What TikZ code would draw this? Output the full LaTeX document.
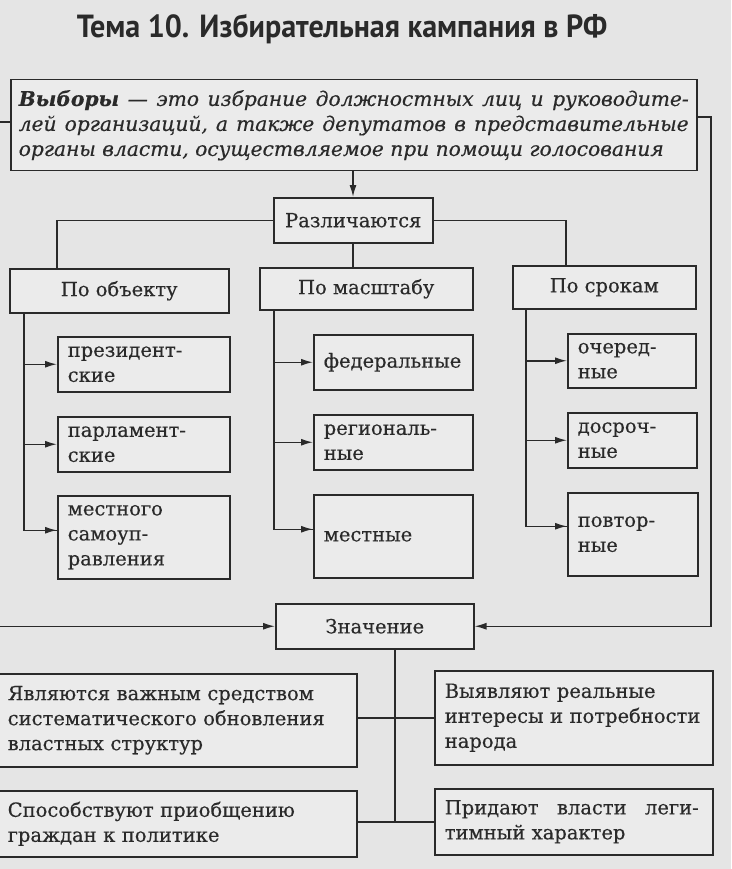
\documentclass[tikz,border=0pt]{standalone}
\usepackage{fontspec}
\setmainfont{DejaVu Serif}[FakeBold=0.4]
\newfontfamily\titlefont{PT Sans}[FakeStretch=0.94]
\usetikzlibrary{arrows.meta,calc}
\definecolor{bgc}{RGB}{229,229,229}
\definecolor{boxc}{RGB}{235,235,235}
\definecolor{ink}{RGB}{42,42,42}
\newcommand{\bxnode}[7][]{%
  \node[box,anchor=north west,minimum width=#5pt-#3pt,minimum height=#6pt-#4pt,
        text width=\dimexpr #5pt-#3pt-20pt\relax,align=left,#1] (#2) at (#3,#4) {#7};}
\newcommand{\cbnode}[7][]{%
  \node[box,anchor=north west,minimum width=#5pt-#3pt,minimum height=#6pt-#4pt,#1] (#2) at (#3,#4) {#7};}
\begin{document}
\begin{tikzpicture}[x=1pt,y=-1pt,
  box/.style={draw=ink,line width=1.5pt,fill=boxc,text=ink,inner xsep=10pt,inner ysep=2pt,
              font=\fontsize{19.5}{25}\selectfont},
  conn/.style={draw=ink,line width=1.5pt},
  arr/.style={conn,-{Latex[length=12pt,width=7pt]}}]
\useasboundingbox (0,0) rectangle (731,869);
\fill[bgc] (0,0) rectangle (731,869);
\clip (0,0) rectangle (731,869);
% title
\node[anchor=base,text=ink,font=\titlefont\bfseries\fontsize{32}{36}\selectfont] (title) at (342,38)
  {Тема 10. Избирательная кампания в РФ};
% definition
\cbnode[inner xsep=8pt,align=left,font=\fontsize{20.2}{25}\selectfont\itshape]{def}{10}{79}{696}{170}
  {\hbox to 670pt{\textbf{Выборы}\hfill—\hfill это\hfill избрание\hfill должностных\hfill лиц\hfill и\hfill руководите-}\\
   \hbox to 670pt{лей\hfill организаций,\hfill а\hfill также\hfill депутатов\hfill в\hfill представительные}\\
   органы власти, осуществляемое при помощи голосования}
% level 1
\cbnode{razl}{273}{197}{432}{242}{Различаются}
\cbnode{obj}{9}{268}{228}{312}{По объекту}
\cbnode{masht}{259}{267}{472}{309}{По масштабу}
\cbnode{srok}{512}{265}{695}{308}{По срокам}
% leaves
\bxnode{pres}{57}{336}{229}{391}{президент-\\ские}
\bxnode{parl}{57}{416}{229}{471}{парламент-\\ские}
\bxnode{mest}{57}{495}{229}{578}{местного\\самоуп-\\равления}
\bxnode{fed}{313}{334}{472}{389}{федеральные}
\bxnode{reg}{313}{414}{472}{469}{региональ-\\ные}
\bxnode{mst}{313}{494}{472}{577}{местные}
\bxnode{och}{567}{333}{695}{387}{очеред-\\ные}
\bxnode{dos}{567}{412}{696}{467}{досроч-\\ные}
\bxnode{pov}{567}{492}{697}{575}{повтор-\\ные}
% significance
\cbnode{znach}{275}{603}{473}{648}{Значение}
\node[box,anchor=north west,minimum width=366pt,minimum height=93pt,inner xsep=17pt,
      text width=332pt,align=left] (yavl) at (-10,673)
  {Являются важным средством\\систематического обновления\\властных структур};
\node[box,anchor=north west,minimum width=366pt,minimum height=66pt,inner xsep=17pt,
      text width=332pt,align=left] (sposob) at (-10,790)
  {Способствуют приобщению\\граждан к политике};
\bxnode{vyyav}{434}{670}{712}{764}{Выявляют реальные\\интересы и потребности\\народа}
\bxnode{prid}{434}{788}{712}{854}{\hbox to 254pt{Придают\hfill власти\hfill леги-}\\тимный характер}
% connectors
\draw[arr] (def.south -| 353,0) -- (razl.north -| 353,0);
\draw[conn] (razl.west) -| ([xshift=48pt]obj.north west);
\draw[conn] (razl.east) -| ([xshift=54pt]srok.north west);
\draw[conn] (razl.south -| 353,0) -- (masht.north -| 353,0);
\coordinate (m1) at ([yshift=7pt]mest.west);
\coordinate (m2) at ([yshift=7pt]mst.west);
\coordinate (m3) at ([yshift=8pt]pov.west);
% column 1
\coordinate (c1) at ([xshift=15pt]obj.south west);
\draw[conn] (c1) |- (m1);
\draw[arr] (c1 |- pres.west) -- (pres.west);
\draw[arr] (c1 |- parl.west) -- (parl.west);
\draw[arr] (c1 |- m1) -- (m1);
% column 2
\coordinate (c2) at ([xshift=15pt]masht.south west);
\draw[conn] (c2) |- (m2);
\draw[arr] (c2 |- fed.west) -- (fed.west);
\draw[arr] (c2 |- reg.west) -- (reg.west);
\draw[arr] (c2 |- m2) -- (m2);
% column 3
\coordinate (c3) at ([xshift=14pt]srok.south west);
\draw[conn] (c3) |- (m3);
\draw[arr] (c3 |- och.west) -- (och.west);
\draw[arr] (c3 |- dos.west) -- (dos.west);
\draw[arr] (c3 |- m3) -- (m3);
% feedback lines to Значение
\draw[arr] (def.west |- 0,122) -- (-6,122) |- (znach.west);
\draw[arr] (def.east |- 0,117) -| (711,300) |- (znach.east);
% significance tree
\coordinate (zs) at ([xshift=120pt]znach.south west);
\draw[conn] (zs) -- (zs |- prid.west);
\draw[conn] (vyyav.west -| yavl.east) -- (vyyav.west);
\draw[conn] (prid.west -| sposob.east) -- (prid.west);
\end{tikzpicture}
\end{document}
